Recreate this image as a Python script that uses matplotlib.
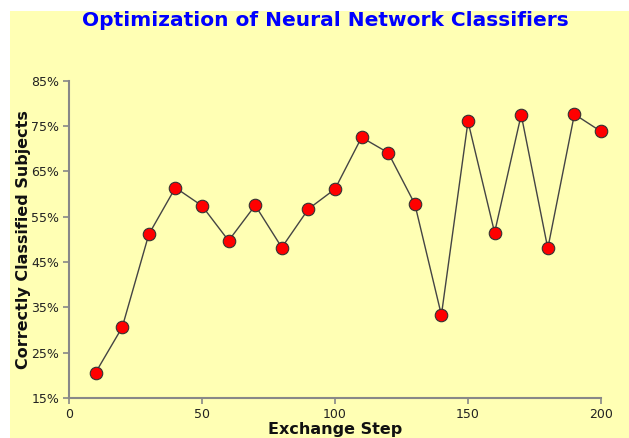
import matplotlib
matplotlib.use('Agg')
import matplotlib.pyplot as plt
from matplotlib.patches import Rectangle
from matplotlib.ticker import FuncFormatter

# Data
steps = [10, 20, 30, 40, 50, 60, 70, 80, 90, 100,
         110, 120, 130, 140, 150, 160, 170, 180, 190, 200]
correct = [20.6, 30.6, 51.1, 61.4, 57.4, 49.7, 57.5, 48.2, 56.7, 61.1,
           72.5, 69.1, 57.8, 33.3, 76.0, 51.5, 77.5, 48.0, 77.6, 73.8]
x_ticks = [0, 50, 100, 150, 200]
y_ticks = [15, 25, 35, 45, 55, 65, 75, 85]

bg = '#FFFFB4'

fig = plt.figure(figsize=(6.29, 4.38), dpi=100)
fig.patch.set_facecolor('white')
# yellow panel, white strip on top and left
fig.patches.append(Rectangle((10 / 629, 0), 1, 1 - 11 / 438,
                             transform=fig.transFigure, facecolor=bg,
                             edgecolor='none', zorder=-10))

ax = fig.add_axes([69 / 629, 1 - 398 / 438, 532 / 629, (398 - 80.7) / 438])
ax.set_facecolor(bg)
ax.patch.set_alpha(0)

ax.plot(steps, correct, color='#444444', linewidth=1, zorder=2)
ax.plot(steps, correct, linestyle='none', marker='o', markersize=9,
        markerfacecolor='#FF0000', markeredgecolor='#333333',
        markeredgewidth=0.8, zorder=3, clip_on=False)

ax.set_xlim(0, 200)
ax.set_ylim(15, 85)
ax.set_xticks(x_ticks)
ax.set_yticks(y_ticks)
ax.yaxis.set_major_formatter(FuncFormatter(lambda v, p: '%d%%' % v))

for s in ['top', 'right']:
    ax.spines[s].set_visible(False)
for s in ['left', 'bottom']:
    ax.spines[s].set_color('#888888')
    ax.spines[s].set_linewidth(1.5)
ax.tick_params(direction='out', length=4, width=1.2, color='#888888',
               labelsize=9, labelcolor='#222222', pad=3)

ax.set_xlabel('Exchange Step', fontsize=11.5, fontweight='bold', labelpad=1,
              color='#111111')
ax.set_ylabel('Correctly Classified Subjects', fontsize=11.5,
              fontweight='bold', labelpad=0, color='#111111')

fig.text(0.517, 1 - 21 / 438, 'Optimization of Neural Network Classifiers',
         ha='center', va='center', fontsize=14.5, fontweight='bold',
         color='#0000FF')

fig.savefig('out.png', dpi=100, facecolor=fig.get_facecolor())
